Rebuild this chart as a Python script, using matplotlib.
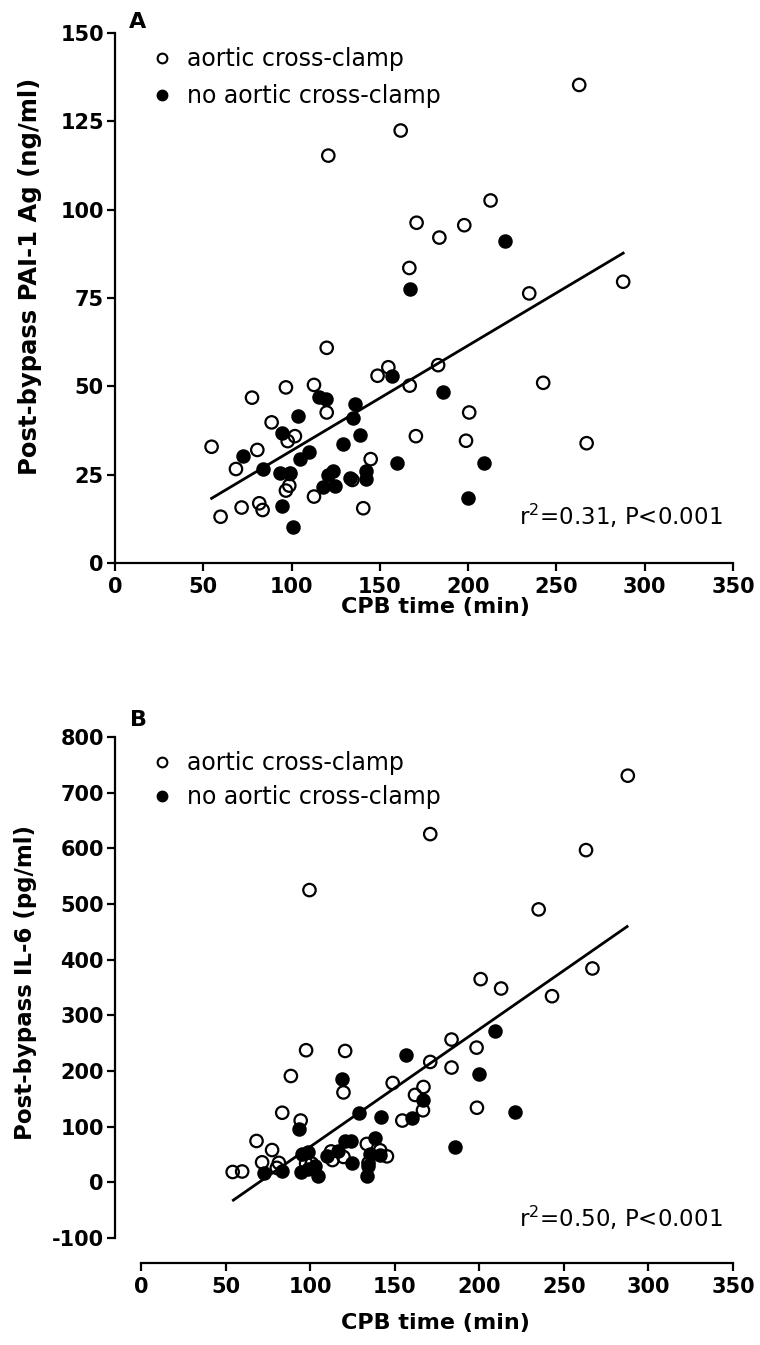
import numpy as np
import matplotlib
matplotlib.use('Agg')
import matplotlib.pyplot as plt
from matplotlib.lines import Line2D

# panel A: PAI-1 Ag (ng/ml) vs CPB time (min)
a_open_x = [54.7, 59.8, 68.5, 71.7, 77.6, 80.6, 81.7, 83.6, 88.7, 96.8, 97.8, 101.9, 99.1, 98.7,
            96.8, 112.7, 112.7, 119.9, 119.9, 120.8, 134.4, 140.6, 144.8, 148.7, 154.8, 161.8,
            166.7, 166.9, 170.4, 170.8, 183.7, 183.0, 197.8, 198.8, 200.6, 212.7, 234.6, 242.5,
            262.9, 267.1, 287.8]
a_open_y = [32.9, 13.1, 26.6, 15.7, 46.8, 32.0, 16.9, 15.0, 39.8, 49.7, 34.5, 35.9, 25.2, 21.9,
            20.5, 50.4, 18.8, 60.9, 42.6, 115.3, 23.5, 15.5, 29.4, 53.0, 55.4, 122.4,
            83.5, 50.2, 35.9, 96.3, 92.1, 56.0, 95.6, 34.6, 42.6, 102.6, 76.3, 51.0,
            135.3, 33.9, 79.6]
a_fill_x = [72.7, 83.6, 93.4, 94.7, 94.7, 99.1, 100.6, 103.8, 104.8, 109.9, 115.3, 118.0, 119.5,
            120.8, 123.6, 124.8, 128.9, 133.0, 134.9, 135.9, 138.7, 142.0, 142.0, 157.0, 159.9,
            167.0, 185.5, 199.7, 209.1, 220.8]
a_fill_y = [30.3, 26.6, 25.4, 36.7, 16.1, 25.6, 10.3, 41.6, 29.4, 31.5, 47.1, 21.4, 46.4,
            24.9, 26.1, 21.9, 33.6, 24.0, 41.0, 44.9, 36.2, 26.0, 23.8, 53.0, 28.2,
            77.5, 48.3, 18.3, 28.4, 91.1]
a_fit_x = [54.7, 287.8]
a_fit_y = [18.3, 87.7]

# panel B: IL-6 (pg/ml) vs CPB time (min)
b_open_x = [54.2, 59.8, 68.3, 71.6, 77.5, 81.5, 80.3, 83.5, 88.6, 94.4, 97.6, 97.6, 101.0, 99.6,
            112.4, 113.2, 119.7, 119.7, 120.7, 133.5, 134.5, 141.4, 145.4, 148.8, 154.5, 162.0,
            167.0, 166.7, 171.0, 171.0, 183.6, 183.6, 198.4, 198.6, 200.8, 212.9, 235.1, 243.0,
            263.1, 266.9, 287.8]
b_open_y = [18.6, 19.5, 74.3, 36.0, 58.0, 35.0, 26.0, 125.0, 191.0, 111.0, 237.3, 33.7, 33.7, 525.0,
            55.5, 40.0, 45.6, 161.5, 236.0, 69.0, 34.7, 57.5, 46.7, 178.5, 111.0, 157.0,
            171.3, 129.4, 216.3, 625.6, 256.5, 206.2, 242.0, 134.0, 365.0, 348.2, 490.3, 334.4,
            596.8, 384.2, 730.5]
b_fill_x = [72.6, 83.6, 93.4, 94.9, 99.0, 94.5, 99.0, 103.0, 104.9, 109.9, 116.5, 118.7, 120.5,
            124.0, 124.6, 129.0, 138.5, 133.5, 134.5, 135.5, 141.4, 141.8, 156.7, 160.0, 167.0,
            185.8, 199.6, 209.1, 220.9]
b_fill_y = [16.0, 21.0, 95.5, 51.0, 54.0, 19.0, 24.6, 28.5, 12.0, 46.7, 57.0, 186.4, 75.0,
            74.3, 34.2, 124.0, 80.3, 10.8, 29.0, 51.0, 48.5, 117.5, 229.5, 115.6, 147.4,
            63.5, 195.4, 272.0, 126.4]
b_fit_x = [54.6, 287.4]
b_fit_y = [-32.0, 459.5]

labels = ['aortic cross-clamp', 'no aortic cross-clamp']

plt.rcParams['font.weight'] = 'bold'
plt.rcParams['axes.labelweight'] = 'bold'
plt.rcParams['axes.unicode_minus'] = False
plt.rcParams['mathtext.default'] = 'regular'

W, H = 760, 1345
fig = plt.figure(figsize=(W / 100, H / 100), dpi=100)

axA = fig.add_axes([115 / W, 1 - 563 / H, 618 / W, 530 / H])
axB = fig.add_axes([141 / W, 1 - 1238 / H, 592 / W, 501 / H])


def draw(ax, ox, oy, fx, fy, lx, ly):
    ax.plot(lx, ly, color='black', lw=2.0, zorder=2)
    ax.scatter(fx, fy, s=80, facecolor='black', edgecolor='black', linewidths=1.5,
               zorder=3, clip_on=False)
    ax.scatter(ox, oy, s=80, facecolor='none', edgecolor='black', linewidths=1.6,
               zorder=4, clip_on=False)
    for s in ['top', 'right']:
        ax.spines[s].set_visible(False)
    for s in ['left', 'bottom']:
        ax.spines[s].set_linewidth(1.6)
    ax.tick_params(direction='out', length=6, width=1.6, labelsize=15)
    ax.tick_params(axis='y', pad=2)
    ax.tick_params(axis='x', pad=4)
    ax.set_xlabel('CPB time (min)', fontsize=16)


draw(axA, a_open_x, a_open_y, a_fill_x, a_fill_y, a_fit_x, a_fit_y)
axA.set_xlim(0, 350)
axA.set_ylim(0, 150)
axA.set_xticks(np.arange(0, 351, 50))
axA.set_yticks(np.arange(0, 151, 25))
axA.set_ylabel('Post-bypass PAI-1 Ag (ng/ml)', fontsize=17.5)
axA.yaxis.set_label_coords(-0.118, 0.54)
axA.xaxis.set_label_coords(0.519, -0.064)
axA.text(344, 13.3, 'r$^2$=0.31, P<0.001', ha='right', va='center', fontsize=16.5,
         fontweight='normal')

draw(axB, b_open_x, b_open_y, b_fill_x, b_fill_y, b_fit_x, b_fit_y)
axB.set_xlim(0, 350)
axB.set_ylim(-100, 800)
axB.set_xticks(np.arange(0, 351, 50))
axB.set_yticks(np.arange(-100, 801, 100))
axB.spines['left'].set_position(('outward', 18.7))
axB.spines['bottom'].set_position(('outward', 18))
axB.set_ylabel('Post-bypass IL-6 (pg/ml)', fontsize=16.5)
axB.yaxis.set_label_coords(-0.176, 0.509)
axB.xaxis.set_label_coords(0.498, -0.150)
axB.text(343.8, -63, 'r$^2$=0.50, P<0.001', ha='right', va='center', fontsize=16.5,
         fontweight='normal')

handles = [Line2D([], [], ls='none', marker='o', ms=7, mfc='none', mec='black', mew=1.5),
           Line2D([], [], ls='none', marker='o', ms=7, mfc='black', mec='black', mew=1.5)]
for ax, top, sp in [(axA, 47, 0.55), (axB, 751, 0.42)]:
    ax.legend(handles, labels, loc='upper left', bbox_to_anchor=(150 / W, 1 - top / H),
              bbox_transform=fig.transFigure, frameon=False,
              prop={'size': 17, 'weight': 'normal'}, borderpad=0,
              handlelength=1.0, handletextpad=0.55, labelspacing=sp, borderaxespad=0)

fig.text(138 / W, 1 - 22 / H, 'A', fontsize=16, ha='center', va='center')
fig.text(138 / W, 1 - 720 / H, 'B', fontsize=16, ha='center', va='center')

fig.savefig('out.png', dpi=100)
